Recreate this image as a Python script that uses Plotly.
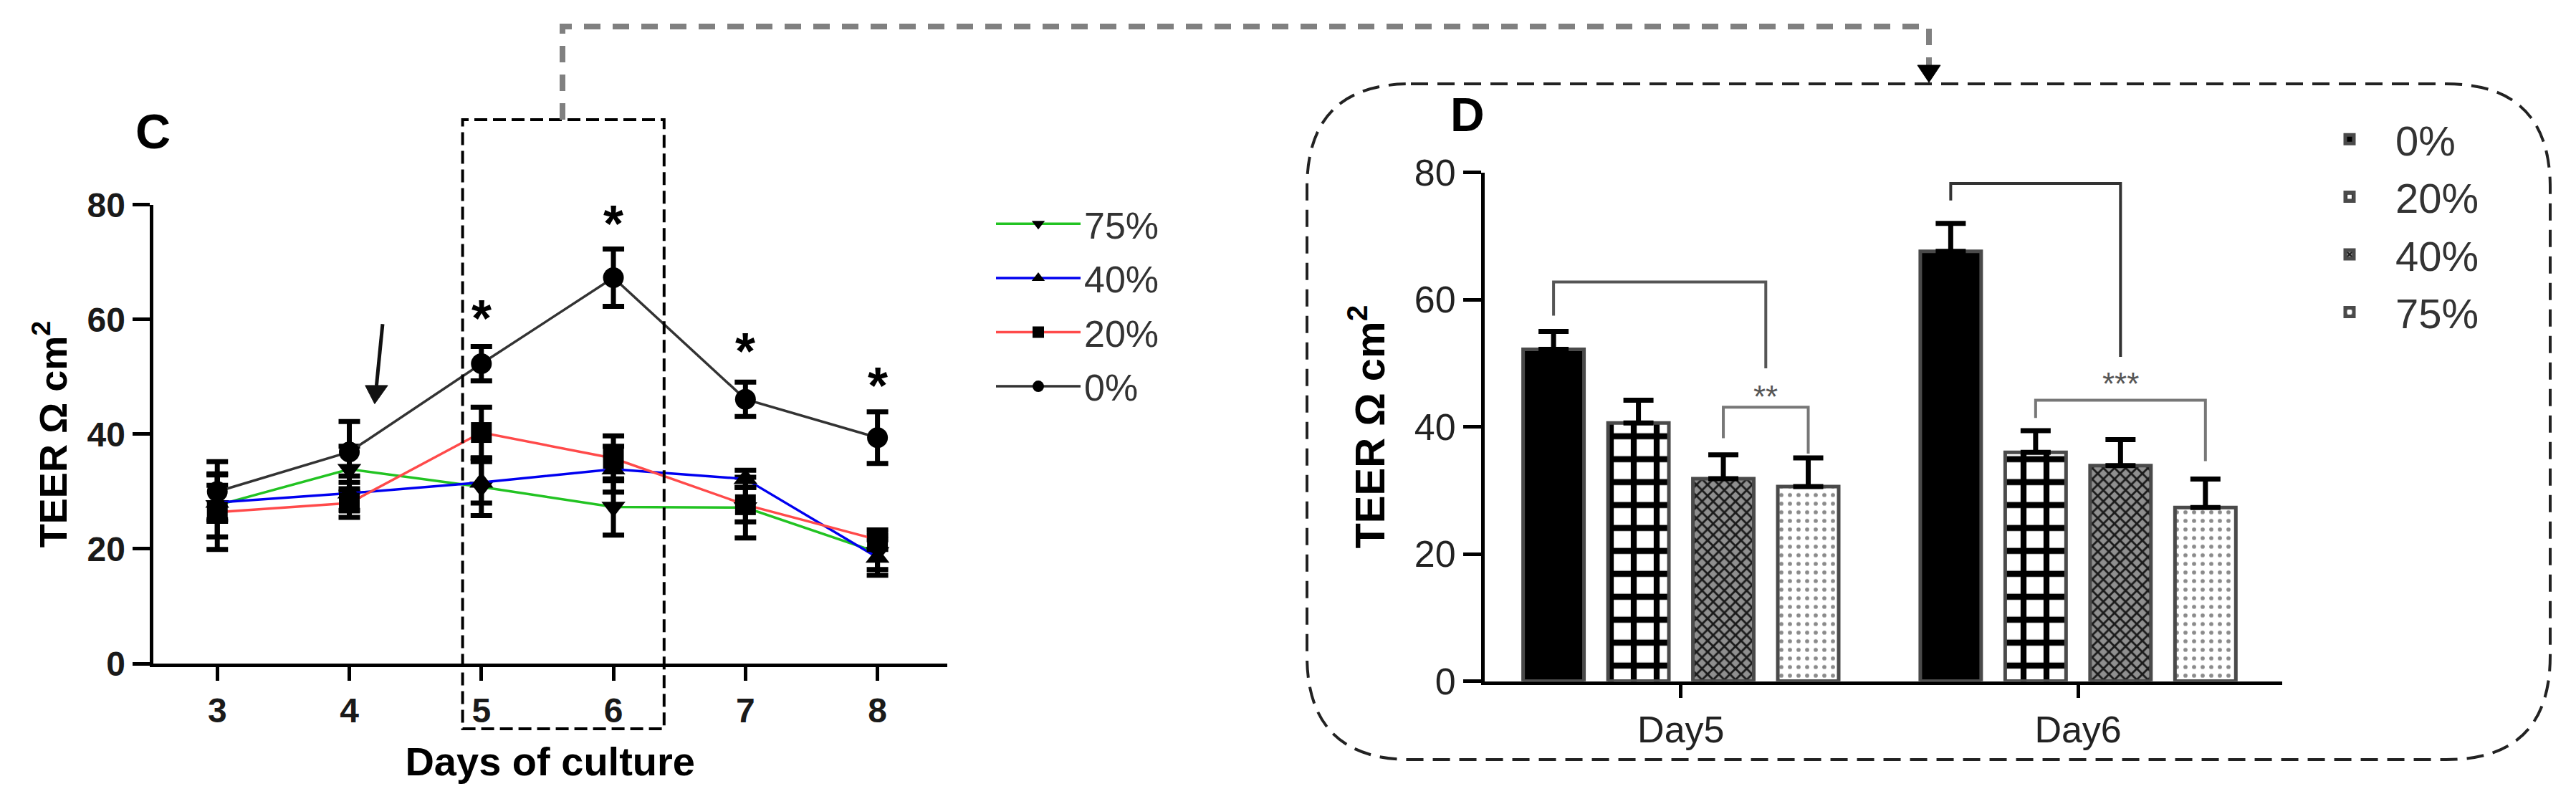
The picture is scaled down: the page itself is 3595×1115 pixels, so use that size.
import plotly.graph_objects as go

W, H = 3595, 1115

# ---------------- Panel C data (line chart) ----------------
days = [3, 4, 5, 6, 7, 8]
teer_75 = [27.6, 33.9, 30.8, 27.3, 27.2, 19.4]
err_75 = [5.5, 4.0, 5.0, 4.9, 5.3, 3.0]
teer_40 = [28.1, 29.7, 31.6, 33.9, 32.2, 18.5]
err_40 = [3.0, 3.0, 3.6, 4.0, 1.5, 3.1]
teer_20 = [26.4, 28.0, 40.3, 35.8, 27.7, 21.6]
err_20 = [6.5, 2.5, 4.4, 3.9, 3.0, 1.7]
teer_0 = [30.0, 36.9, 52.3, 67.3, 46.1, 39.4]
err_0 = [5.2, 5.3, 3.0, 5.0, 3.0, 4.5]
star_days = [5, 6, 7, 8]
star_y = [62.0, 78.5, 56.3, 50.2]

# ---------------- Panel D data (bar chart) ----------------
groups_d = ["Day5", "Day6"]
bar_0 = [52.2, 67.6]
berr_0 = [2.8, 4.4]
bar_20 = [40.6, 36.0]
berr_20 = [3.6, 3.4]
bar_40 = [31.85, 33.9]
berr_40 = [3.75, 4.1]
bar_75 = [30.6, 27.3]
berr_75 = [4.5, 4.5]

FONT = "Liberation Sans, Arial, sans-serif"


def px(x):
    return x / W


def py(y):
    return 1 - y / H


fig = go.Figure()

line_series = [
    ("75%", teer_75, err_75, "#22c322", "triangle-down"),
    ("40%", teer_40, err_40, "#0000f0", "triangle-up"),
    ("20%", teer_20, err_20, "#ff4a4a", "square"),
    ("0%", teer_0, err_0, "#333333", "circle"),
]
for name, vals, errs, col, sym in line_series:
    fig.add_trace(go.Scatter(
        x=days, y=vals, name=name, mode="lines+markers",
        line=dict(color=col, width=3.5),
        marker=dict(symbol=sym, size=29, color="black"),
        error_y=dict(type="data", array=errs, color="black", thickness=7, width=15),
        xaxis="x", yaxis="y", legend="legend", legendgroup="c" + name,
    ))

# bars
bargap = 0.145
bargroupgap = 0.283
slot = 1 - bargap
nb = 4
xpos = list(range(len(groups_d)))
bar_series = [
    ("0%", bar_0, berr_0, "black", dict(shape="")),
    ("20%", bar_20, berr_20, "white", dict(shape="+", fgcolor="black", bgcolor="white", size=32, solidity=0.45)),
    ("40%", bar_40, berr_40, "#888888", dict(shape="x", fgcolor="#1a1a1a", bgcolor="#8f8f8f", size=11, solidity=0.45)),
    ("75%", bar_75, berr_75, "white", dict(shape=".", fgcolor="#8a8a8a", bgcolor="white", size=12, solidity=0.18)),
]
for name, vals, errs, col, pat in bar_series:
    fig.add_trace(go.Bar(
        x=xpos, y=vals, name=name,
        marker=dict(color=col, line=dict(color="#4a4a4a", width=5), pattern=pat),
        error_y=dict(type="data", symmetric=False, array=errs, arrayminus=[0] * len(errs),
                     color="black", thickness=7, width=21),
        xaxis="x2", yaxis="y2", legend="legend2", legendgroup="d" + name,
    ))


def bar_center(g, i):
    return g - slot / 2 + slot / nb * (i + 0.5)


axis_common = dict(showline=True, linecolor="black", linewidth=5, ticks="outside",
                   tickcolor="black", tickwidth=5, showgrid=False, zeroline=False,
                   automargin=False)

fig.update_layout(
    template="none",
    width=W, height=H, autosize=False,
    margin=dict(l=0, r=0, t=0, b=0, pad=0, autoexpand=False),
    paper_bgcolor="white", plot_bgcolor="white",
    font=dict(family=FONT, color="black"),
    barmode="group", bargap=bargap, bargroupgap=bargroupgap,
    xaxis=dict(domain=[px(213.5), px(1321.9)], range=[2.513, 8.528], anchor="y",
               tickvals=days, ticklen=19,
               tickfont=dict(size=48, weight="bold", color="#1a1a1a"),
               title=dict(text="Days of culture", font=dict(size=56, weight="bold"), standoff=28),
               **axis_common),
    yaxis=dict(domain=[py(926), py(285.9)], range=[0, 80], anchor="x",
               tickvals=[0, 20, 40, 60, 80], ticklen=24,
               tickfont=dict(size=48, weight="bold", color="#1a1a1a"),
               title=dict(text="TEER Ω cm<sup>2</sup>", font=dict(size=54, weight="bold"), standoff=12),
               **axis_common),
    xaxis2=dict(domain=[px(2072), px(3185)], range=[-0.494, 1.514], anchor="y2",
                tickvals=xpos, ticktext=groups_d, ticklen=18,
                tickfont=dict(size=52, color="#222222"),
                **axis_common),
    yaxis2=dict(domain=[py(950.5), py(240.8)], range=[0, 80], anchor="x2",
                tickvals=[0, 20, 40, 60, 80], ticklen=25,
                tickfont=dict(size=52, color="#222222"),
                title=dict(text="TEER Ω cm<sup>2</sup>", font=dict(size=58, weight="bold"), standoff=24),
                **axis_common),
    legend=dict(x=px(1385), y=py(272), xanchor="left", yanchor="top",
                font=dict(size=52, color="#333333"), bgcolor="rgba(0,0,0,0)",
                borderwidth=0, itemwidth=118, tracegroupgap=5, traceorder="grouped"),
    legend2=dict(x=px(3215), y=py(150), xanchor="left", yanchor="top",
                 font=dict(size=58, color="#333333"), bgcolor="rgba(0,0,0,0)",
                 borderwidth=0, itemwidth=118, tracegroupgap=2, traceorder="grouped"),
    showlegend=True,
)

shapes = []
# dashed rectangle in panel C
shapes.append(dict(type="rect", xref="paper", yref="paper",
                   x0=px(645.6), x1=px(926.8), y0=py(1017), y1=py(167),
                   line=dict(color="black", width=4, dash="18px,8px")))
# gray connector
shapes.append(dict(type="path", xref="paper", yref="paper",
                   path=f"M {px(785)},{py(167)} L {px(785)},{py(37)} L {px(2692)},{py(37)} L {px(2692)},{py(94)}",
                   line=dict(color="#808080", width=8, dash="23px,17px")))
# connector arrow head
shapes.append(dict(type="path", xref="paper", yref="paper",
                   path=f"M {px(2676)},{py(91)} L {px(2708)},{py(91)} L {px(2692)},{py(115)} Z",
                   fillcolor="black", line=dict(color="black", width=1)))
# rounded dashed box around panel D
x0, x1, y0, y1 = 1824, 3559, 117, 1060
r = 145
rx, ry = r / W, r / H
X0, X1, Yt, Yb = px(x0), px(x1), py(y0), py(y1)
box = (f"M {X0 + rx},{Yt} L {X1 - rx},{Yt} Q {X1},{Yt} {X1},{Yt - ry} "
       f"L {X1},{Yb + ry} Q {X1},{Yb} {X1 - rx},{Yb} "
       f"L {X0 + rx},{Yb} Q {X0},{Yb} {X0},{Yb + ry} "
       f"L {X0},{Yt - ry} Q {X0},{Yt} {X0 + rx},{Yt} Z")
shapes.append(dict(type="path", xref="paper", yref="paper", path=box,
                   line=dict(color="#222222", width=4, dash="24px,13px")))

# arrow in panel C (shaft + head)
arrow_tail = (4.252, 59.2)
arrow_tip = (4.192, 45.3)
head_len = 3.2
head_half = 0.085
bx = arrow_tip[0] + (arrow_tail[0] - arrow_tip[0]) * head_len / (arrow_tail[1] - arrow_tip[1])
by = arrow_tip[1] + head_len
shapes.append(dict(type="line", xref="x", yref="y", x0=arrow_tail[0], y0=arrow_tail[1],
                   x1=bx, y1=by, line=dict(color="#111111", width=5)))
shapes.append(dict(type="path", xref="x", yref="y",
                   path=f"M {bx - head_half},{by} L {bx + head_half},{by} L {arrow_tip[0]},{arrow_tip[1]} Z",
                   fillcolor="#111111", line=dict(color="#111111", width=1)))

# significance brackets in panel D
brackets = [
    (bar_center(0, 0), (bar_center(0, 2) + bar_center(0, 3)) / 2, 57.5, 62.8, 49.2, "#555555"),
    (bar_center(0, 2), bar_center(0, 3), 38.2, 43.1, 35.8, "#777777"),
    (bar_center(1, 0), (bar_center(1, 1) + bar_center(1, 3)) / 2, 75.6, 78.3, 51.0, "#333333"),
    (bar_center(1, 1), bar_center(1, 3), 41.4, 44.2, 34.6, "#777777"),
]
for xa, xb, ya, ytop, yb, col in brackets:
    shapes.append(dict(type="path", xref="x2", yref="y2",
                       path=f"M {xa},{ya} L {xa},{ytop} L {xb},{ytop} L {xb},{yb}",
                       line=dict(color=col, width=4)))

annotations = []
# panel letters
annotations.append(dict(text="C", x=px(213), y=py(183), xref="paper", yref="paper",
                        xanchor="center", yanchor="middle",
                        showarrow=False, font=dict(size=68, weight="bold", color="black")))
annotations.append(dict(text="D", x=px(2048), y=py(160), xref="paper", yref="paper",
                        xanchor="center", yanchor="middle",
                        showarrow=False, font=dict(size=66, weight="bold", color="black")))
# stars
for d, yv in zip(star_days, star_y):
    annotations.append(dict(text="*", x=d, y=yv, xref="x", yref="y", showarrow=False,
                            xanchor="center", yanchor="middle", yshift=-14,
                            font=dict(size=72, weight="bold", color="black")))
annotations.append(dict(text="**", x=(bar_center(0, 2) + bar_center(0, 3)) / 2, y=45.7,
                        xref="x2", yref="y2", showarrow=False, yshift=-8,
                        xanchor="center", yanchor="middle",
                        font=dict(size=44, color="#555555")))
annotations.append(dict(text="***", x=(bar_center(1, 1) + bar_center(1, 3)) / 2, y=47.7,
                        xref="x2", yref="y2", showarrow=False, yshift=-8,
                        xanchor="center", yanchor="middle",
                        font=dict(size=44, color="#555555")))

fig.update_layout(shapes=shapes, annotations=annotations)

fig.write_html("out.html", config={"displayModeBar": False},
               post_script="document.body.style.margin='0';document.body.style.overflow='hidden';")
